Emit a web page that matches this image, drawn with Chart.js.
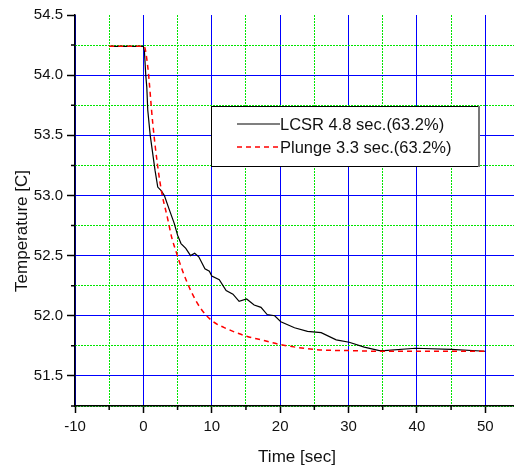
<!DOCTYPE html>
<html>
<head>
<meta charset="utf-8">
<script src="https://cdn.jsdelivr.net/npm/chart.js@4"></script>
<style>
  html, body { margin: 0; padding: 0; background: #fff; }
  #wrap { width: 514px; height: 472px; }
</style>
</head>
<body>
<div id="wrap"><canvas id="tempChart" width="514" height="472"></canvas></div>
<script>
// values
const lcsrTime = [-5, 0, 0.15, 0.35, 0.5, 0.64, 1.0, 1.7, 2.1, 2.6, 3.07, 3.8, 4.5, 5.0, 5.5, 6.2, 6.9, 7.5, 8.1, 9.0, 9.65, 10.0,
  11.1, 12.1, 13.1, 14.0, 15.1, 16.2, 17.2, 18.1, 19.2, 20.1, 22.1, 24.0, 26.0, 28.2, 30.1, 32.3, 34.5, 35.2, 39.8, 45, 50];
const lcsrTemp = [54.24, 54.24, 54.2, 54.0, 53.9, 53.71, 53.5, 53.21, 53.07, 53.04, 53.0, 52.88, 52.77, 52.67, 52.6, 52.56, 52.5, 52.52, 52.49, 52.39, 52.37, 52.33,
  52.3, 52.21, 52.18, 52.12, 52.14, 52.09, 52.07, 52.01, 52.0, 51.95, 51.9, 51.87, 51.86, 51.8, 51.78, 51.74, 51.71, 51.71, 51.73, 51.72, 51.705];

const plungeTime = [-5, 0.1, 0.64, 1.37, 2.1, 2.7, 3.5, 4.15, 4.8, 5.75, 7.0, 8.4, 10, 12.3, 15.1, 17.2, 20.1, 25, 30.4, 35, 40, 45, 50];
const plungeTemp = [54.24, 54.24, 54.07, 53.6, 53.24, 53.02, 52.82, 52.65, 52.53, 52.37, 52.2, 52.06, 51.96, 51.89, 51.83, 51.8, 51.76, 51.72, 51.71, 51.705, 51.705, 51.705, 51.705];

const seriesLabels = ['LCSR 4.8 sec.(63.2%)', 'Plunge 3.3 sec.(63.2%)'];
const xTitle = 'Time [sec]';
const yTitle = 'Temperature [C]';

const FONT = "'Liberation Sans', Arial, sans-serif";
const BLUE = '#0000ff';
const GREEN = '#00e600';

const toPoints = (xs, ys) => xs.map((x, i) => ({ x, y: ys[i] }));

// short minor ticks, legend box and axis titles
const extrasPlugin = {
  id: 'extras',
  afterDraw(chart) {
    const { ctx, chartArea: a } = chart;
    const xs = chart.scales.x, ys = chart.scales.y;
    ctx.save();
    ctx.strokeStyle = '#000';
    ctx.lineWidth = 1.5;
    ctx.beginPath();
    for (let v = -5; v < xs.max; v += 10) {
      const px = xs.getPixelForValue(v);
      ctx.moveTo(px, a.bottom);
      ctx.lineTo(px, a.bottom + 4);
    }
    for (let v = 51.25; v < ys.max; v += 0.5) {
      const py = ys.getPixelForValue(v);
      ctx.moveTo(a.left - 4, py);
      ctx.lineTo(a.left, py);
    }
    ctx.stroke();

    // legend
    const lx = 211, ly = 106, lw = 267, lh = 60;
    ctx.fillStyle = '#fff';
    ctx.fillRect(lx, ly, lw, lh);
    ctx.lineWidth = 1;
    ctx.strokeStyle = '#000';
    ctx.strokeRect(lx + 0.5, ly + 0.5, lw, lh);
    ctx.strokeStyle = '#777';
    ctx.lineWidth = 2;
    ctx.beginPath();
    ctx.moveTo(lx + lw + 1, ly);
    ctx.lineTo(lx + lw + 1, ly + lh + 1);
    ctx.stroke();

    const rows = [ly + 18, ly + 41];
    const dsets = chart.data.datasets;
    [1, 0].forEach((di, r) => {
      const ds = dsets[di];
      ctx.strokeStyle = ds.borderColor;
      ctx.lineWidth = ds.borderWidth;
      ctx.setLineDash(ds.borderDash || []);
      ctx.beginPath();
      ctx.moveTo(237, rows[r]);
      ctx.lineTo(280, rows[r]);
      ctx.stroke();
      ctx.setLineDash([]);
      ctx.fillStyle = '#111';
      ctx.font = '16.5px ' + FONT;
      ctx.textBaseline = 'middle';
      ctx.textAlign = 'left';
      ctx.fillText(ds.label, 280, rows[r] + 1);
    });

    // axis titles
    ctx.fillStyle = '#111';
    ctx.font = '17px ' + FONT;
    ctx.textAlign = 'center';
    ctx.textBaseline = 'middle';
    ctx.fillText(xTitle, 297, 457);
    ctx.translate(22, 231);
    ctx.rotate(-Math.PI / 2);
    ctx.fillText(yTitle, 0, 0);
    ctx.restore();
  }
};

const tempChart = new Chart(document.getElementById('tempChart'), {
  type: 'line',
  data: {
    datasets: [
      {
        label: seriesLabels[1],
        data: toPoints(plungeTime, plungeTemp),
        borderColor: '#ff0000',
        borderWidth: 1.5,
        borderDash: [5, 4],
        pointRadius: 0,
        cubicInterpolationMode: 'monotone',
        order: 0
      },
      {
        label: seriesLabels[0],
        data: toPoints(lcsrTime, lcsrTemp),
        borderColor: '#000000',
        borderWidth: 1.2,
        pointRadius: 0,
        tension: 0,
        order: 1
      }
    ]
  },
  options: {
    responsive: false,
    animation: false,
    layout: { padding: { top: 15, right: 0, left: 0, bottom: 0 } },
    plugins: { legend: { display: false }, tooltip: { enabled: false } },
    scales: {
      x: {
        type: 'linear',
        position: 'bottom',
        min: -10,
        max: 54.2,
        afterFit: s => { s.height = 66; },
        ticks: {
          stepSize: 10,
          includeBounds: false,
          color: '#111',
          padding: 5,
          font: { family: FONT, size: 15 }
        },
        grid: { color: BLUE, lineWidth: 1, tickLength: 7, tickColor: '#000', tickWidth: 1.5 },
        border: { color: '#000', width: 1.5 }
      },
      xMinor: {
        type: 'linear',
        position: 'top',
        min: -10,
        max: 54.2,
        ticks: { display: false, stepSize: 5, includeBounds: false },
        grid: {
          drawTicks: false,
          color: c => (c.tick && Math.abs(c.tick.value % 10) === 5) ? GREEN : 'transparent',
          lineWidth: 1
        },
        border: { display: false, dash: [2, 1] }
      },
      y: {
        type: 'linear',
        position: 'left',
        min: 51.25,
        max: 54.5,
        afterFit: s => { s.width = 75; },
        ticks: {
          stepSize: 0.5,
          includeBounds: false,
          color: '#111',
          padding: 4,
          font: { family: FONT, size: 15 },
          callback: v => v.toFixed(1)
        },
        grid: {
          color: c => (c.tick && c.tick.value >= 54.5) ? 'transparent' : BLUE,
          lineWidth: 1, tickLength: 8, tickColor: '#000', tickWidth: 1.5
        },
        border: { color: '#000', width: 1.5 }
      },
      yMinor: {
        type: 'linear',
        position: 'right',
        min: 51.25,
        max: 54.5,
        ticks: { display: false, stepSize: 0.25, includeBounds: false },
        grid: {
          drawTicks: false,
          color: c => (c.tick && Math.abs((c.tick.value * 4) % 2 - 1) < 0.01) ? GREEN : 'transparent',
          lineWidth: 1
        },
        border: { display: false, dash: [2, 1] }
      }
    }
  },
  plugins: [extrasPlugin]
});
</script>
</body>
</html>
